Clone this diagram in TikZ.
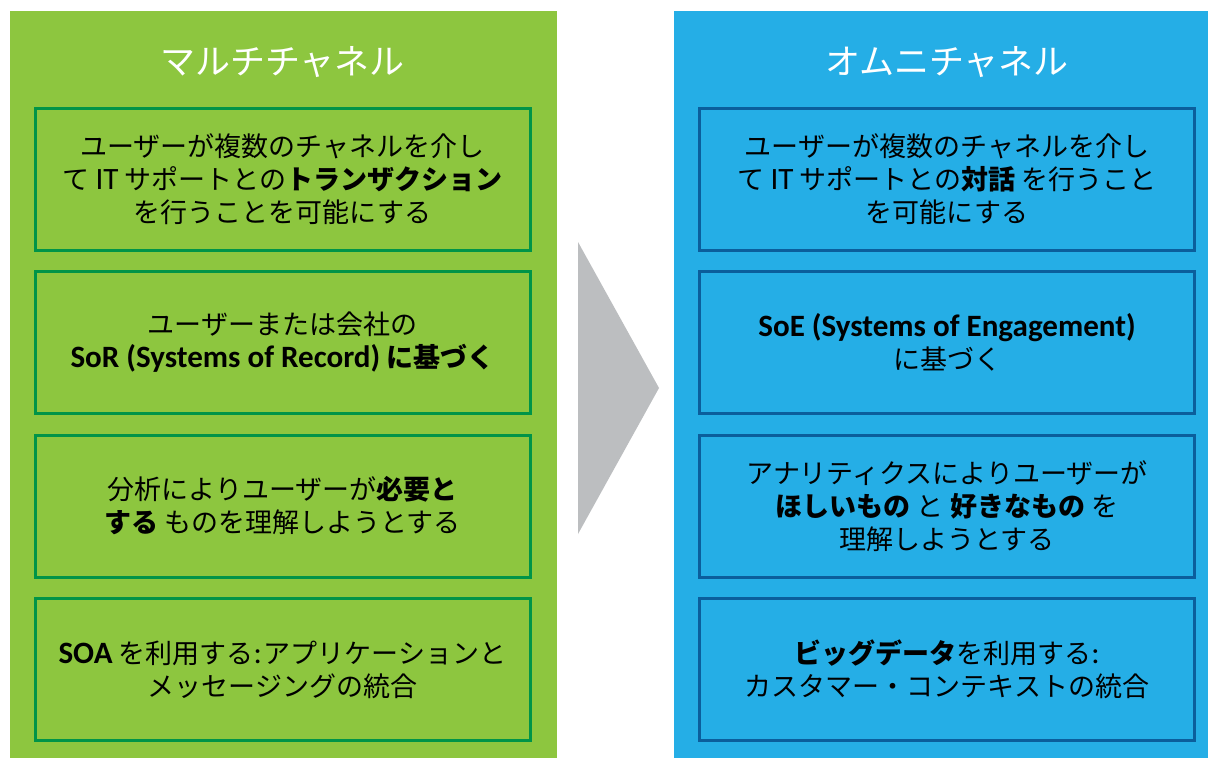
\documentclass[tikz,border=0pt]{standalone}
\usepackage{fontspec}
\setmainfont{Noto Sans CJK JP}
\newfontfamily\latn{Carlito}[Scale=1.15]
\definecolor{pgreen}{HTML}{8DC63F}
\definecolor{bgreen}{HTML}{009448}
\definecolor{pblue}{HTML}{25AEE6}
\definecolor{bblue}{HTML}{0B5E9C}
\definecolor{trigray}{HTML}{BCBEC0}
\begin{document}
\begin{tikzpicture}[x=1pt,y=-1pt,
  item/.style={draw, line width=3pt, minimum width=495pt, minimum height=142pt,
    align=center, inner sep=0pt, font=\fontsize{27}{33}\selectfont},
  gitem/.style={item, draw=bgreen},
  bitem/.style={item, draw=bblue},
  ttl/.style={text=white, font=\fontsize{35}{40}\selectfont, inner sep=0pt}]
\useasboundingbox (0,0) rectangle (1208,758);
\fill[white] (0,0) rectangle (1208,758);
% panels
\fill[pgreen] (10,11) rectangle (557,758);
\fill[pblue] (674,11) rectangle (1208,758);
% arrow
\fill[trigray] (578,242) -- (659,388) -- (578,534) -- cycle;
% titles
\node[ttl] (tl) at (282.5,62) {マルチチャネル};
\node[ttl] (tr) at (947,62) {オムニチャネル};
% left boxes
\node[gitem] (l1) at (282.5,179) {ユーザーが複数のチャネルを介し\\て {\latn IT} サポートとの{\bfseries トランザクション}\\を行うことを可能にする};
\node[gitem] (l2) at (282.5,342.5) {ユーザーまたは会社の\\{\bfseries{\latn SoR (Systems of Record)} に基づく}};
\node[gitem] (l3) at (282.5,506) {分析によりユーザーが{\bfseries 必要と}\\{\bfseries する} ものを理解しようとする};
\node[gitem] (l4) at (282.5,669.5) {{\bfseries\latn SOA} を利用する{\latn :\kern2pt}アプリケーションと\\メッセージングの統合};
% right boxes
\node[bitem] (r1) at (947,179) {ユーザーが複数のチャネルを介し\\て {\latn IT} サポートとの{\bfseries 対話} を行うこと\\を可能にする};
\node[bitem] (r2) at (947,342.5) {{\bfseries\latn SoE (Systems of Engagement)}\\に基づく};
\node[bitem] (r3) at (947,506) {アナリティクスによりユーザーが\\{\bfseries ほしいもの} と {\bfseries 好きなもの} を\\理解しようとする};
\node[bitem] (r4) at (947,669.5) {{\bfseries ビッグデータ}を利用する{\latn :}\\カスタマー・コンテキストの統合};
\end{tikzpicture}
\end{document}
